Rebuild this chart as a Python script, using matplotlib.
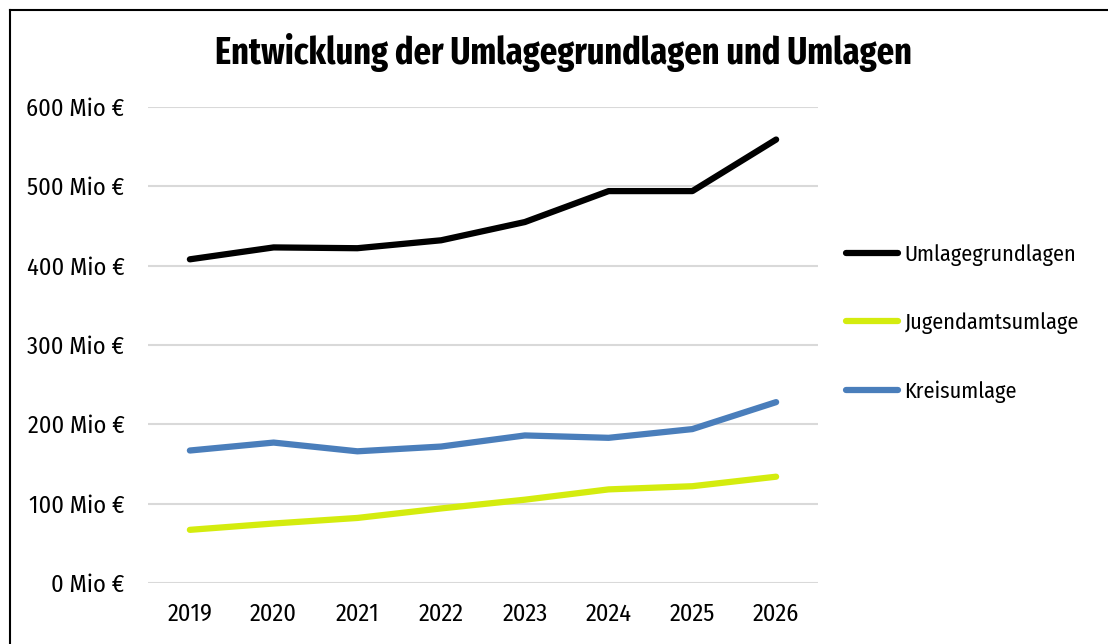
import matplotlib.pyplot as plt
from matplotlib.lines import Line2D
from matplotlib.ticker import FuncFormatter

years = ["2019", "2020", "2021", "2022", "2023", "2024", "2025", "2026"]
umlagegrundlagen = [408, 423, 422, 432, 455, 494, 494, 559]
jugendamtsumlage = [67, 75, 82, 94, 105, 118, 122, 134]
kreisumlage = [167, 177, 166, 172, 186, 183, 194, 228]

series_names = ["Umlagegrundlagen", "Jugendamtsumlage", "Kreisumlage"]
series_colors = ["#000000", "#d4ec0e", "#4a7ebb"]

plt.rcParams['font.family'] = ['Fira Sans Condensed', 'DejaVu Sans']

fig = plt.figure(figsize=(11.08, 6.44), dpi=100)
ax = fig.add_axes([148 / 1108, 1 - 583 / 644, (818 - 148) / 1108, (583 - 107) / 644])

x = range(len(years))
for vals, name, col in zip([umlagegrundlagen, jugendamtsumlage, kreisumlage], series_names, series_colors):
    ax.plot(x, vals, color=col, lw=4.5, label=name, solid_capstyle='round', solid_joinstyle='round')

ax.set_xlim(-0.5, len(years) - 0.5)
ax.set_ylim(0, 600)
ax.set_yticks(range(0, 601, 100))
ax.yaxis.set_major_formatter(FuncFormatter(lambda v, p: f"{int(v)} Mio €"))
ax.set_xticks(list(x))
ax.set_xticklabels(years)
ax.grid(axis='y', color='#d9d9d9', lw=1.5)
ax.set_axisbelow(True)
for s in ax.spines.values():
    s.set_visible(False)
ax.tick_params(length=0, labelsize=17.5, colors='black')
ax.tick_params(axis='y', pad=17)
ax.tick_params(axis='x', pad=14)

fig.text(563 / 1108, 1 - 53 / 644, "Entwicklung der Umlagegrundlagen und Umlagen",
         ha='center', va='center', fontsize=26.8, fontweight='bold',
         family=['Fira Sans Extra Condensed', 'DejaVu Sans'])

leg = fig.legend(loc='upper left', bbox_to_anchor=(826 / 1108, 1 - 224 / 644), frameon=False,
                 fontsize=16, handlelength=2.35, handletextpad=0.28, labelspacing=2.08)

# frame (top and left edge)
fig.add_artist(Line2D([9.5 / 1108, 9.5 / 1108], [0, 1 - 9.5 / 644], color='black', lw=1.5))
fig.add_artist(Line2D([9.5 / 1108, 1], [1 - 9.5 / 644, 1 - 9.5 / 644], color='black', lw=1.5))

fig.savefig("out.png", dpi=100)
